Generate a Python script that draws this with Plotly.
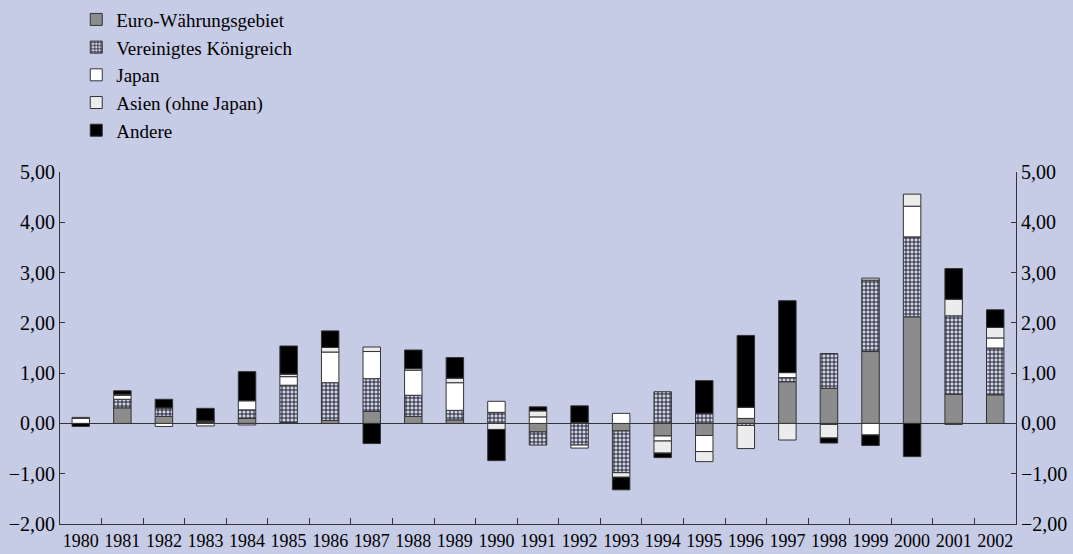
import plotly.graph_objects as go

years = [str(y) for y in range(1980, 2003)]
euro = [0.0, 0.31, 0.14, 0.02, 0.10, 0.02, 0.06, 0.24, 0.14, 0.07, 0.0, -0.17, 0.02, -0.15, -0.25, -0.24, 0.10, 0.83, 0.70, 1.43, 2.12, 0.58, 0.57]
uk = [0.0, 0.17, 0.17, 0.03, 0.17, 0.74, 0.75, 0.65, 0.42, 0.19, 0.22, -0.26, -0.43, -0.83, 0.63, 0.20, -0.04, 0.08, 0.69, 1.42, 1.59, 1.56, 0.93]
japan = [0.10, 0.08, -0.06, -0.05, 0.18, 0.17, 0.61, 0.54, 0.50, 0.55, 0.22, 0.13, -0.06, 0.20, -0.10, -0.32, 0.22, 0.10, -0.02, -0.23, 0.61, -0.02, 0.20]
asia = [0.02, 0.02, 0.0, 0.0, -0.03, 0.05, 0.09, 0.09, 0.03, 0.09, -0.12, 0.12, 0.0, -0.09, -0.24, -0.20, -0.46, -0.33, -0.27, 0.04, 0.24, 0.33, 0.21]
andere = [-0.06, 0.07, 0.17, 0.25, 0.58, 0.56, 0.33, -0.40, 0.37, 0.41, -0.62, 0.08, 0.33, -0.25, -0.09, 0.65, 1.43, 1.43, -0.10, -0.21, -0.66, 0.61, 0.35]

names = ["Euro-Währungsgebiet", "Vereinigtes Königreich", "Japan", "Asien (ohne Japan)", "Andere"]
tick_vals = [-2, -1, 0, 1, 2, 3, 4, 5]

BG = "#c6cbe6"
FONT = "Liberation Serif, Times New Roman, serif"
outline = dict(color="#333333", width=1)

fig = go.Figure()
fig.add_trace(go.Bar(x=years, y=euro, name=names[0], marker=dict(color="#8c8c8c", line=outline)))
fig.add_trace(go.Bar(x=years, y=uk, name=names[1],
                     marker=dict(color=BG, line=outline,
                                 pattern=dict(shape="+", fgcolor="#111111", bgcolor="#d0d4ee",
                                              size=4, solidity=0.4, fillmode="replace"))))
fig.add_trace(go.Bar(x=years, y=japan, name=names[2], marker=dict(color="#ffffff", line=outline)))
fig.add_trace(go.Bar(x=years, y=asia, name=names[3], marker=dict(color="#ececec", line=outline)))
fig.add_trace(go.Bar(x=years, y=andere, name=names[4], marker=dict(color="#000000", line=outline)))
# invisible trace to carry the right-hand axis
fig.add_trace(go.Scatter(x=[years[0]], y=[tick_vals[0]], yaxis="y2", mode="markers",
                         marker=dict(opacity=0), showlegend=False, hoverinfo="skip"))

fig.update_layout(
    width=1073, height=554,
    barmode="relative",
    bargap=0.58,
    separators=",.",
    paper_bgcolor=BG, plot_bgcolor=BG,
    font=dict(family=FONT, size=20, color="#000000"),
    margin=dict(l=60, r=57, t=172, b=30, autoexpand=False),
    legend=dict(x=0.017, y=1.487, xanchor="left", yanchor="top", traceorder="normal",
                font=dict(family=FONT, size=19), bgcolor="rgba(0,0,0,0)",
                tracegroupgap=0, itemwidth=30),
    xaxis=dict(type="category", range=[-0.5, len(years) - 0.5], automargin=False,
               showline=True, linecolor="#333333", linewidth=1,
               ticks="inside", tickson="boundaries", ticklen=6, tickcolor="#333333",
               showgrid=False, zeroline=False, tickfont=dict(size=18), tickangle=0),
    yaxis=dict(range=[-2, 5], tickvals=tick_vals, tickformat=".2f", showline=True, automargin=False,
               linecolor="#333333", linewidth=1, ticks="inside", ticklen=5, tickcolor="#333333",
               showgrid=False, zeroline=True, zerolinecolor="#333333", zerolinewidth=1),
    yaxis2=dict(range=[-2, 5], tickvals=tick_vals, tickformat=".2f", overlaying="y", side="right",
                showline=True, linecolor="#333333", linewidth=1, ticks="inside", ticklen=5,
                automargin=False, tickcolor="#333333", showgrid=False, zeroline=False),
)

fig.write_html("out.html", config={"displayModeBar": False},
               post_script="document.body.style.margin='0';document.body.style.overflow='hidden';")
